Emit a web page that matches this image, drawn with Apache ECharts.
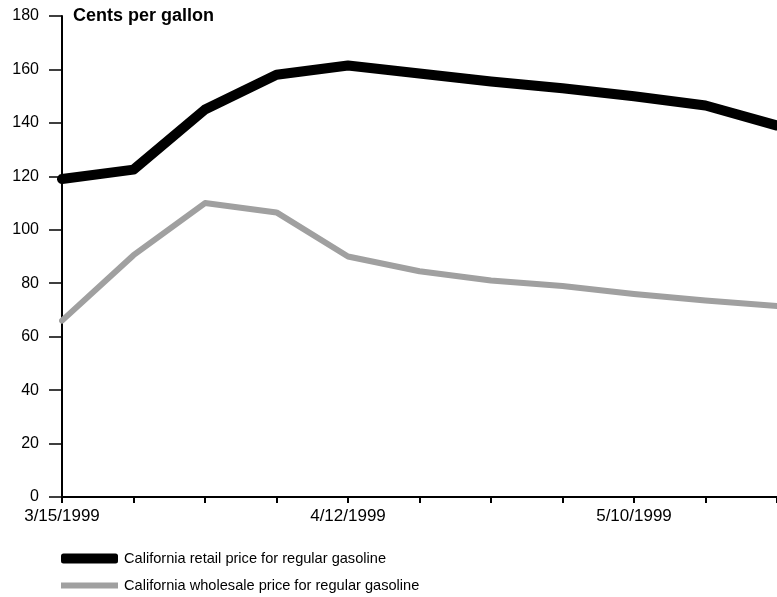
<!DOCTYPE html>
<html><head><meta charset="utf-8">
<script src="https://cdn.jsdelivr.net/npm/echarts@6/dist/echarts.min.js"></script>
<style>html,body{margin:0;padding:0;background:#fff}#c{width:777px;height:597px}</style>
</head><body><div id="c"></div>
<script>
var dates = ['3/15/1999','3/22/1999','3/29/1999','4/5/1999','4/12/1999','4/19/1999','4/26/1999','5/3/1999','5/10/1999','5/17/1999','5/24/1999'];
var retail = [119, 122.5, 145, 158, 161.5, 158.5, 155.5, 153, 150, 146.5, 139];
var wholesale = [66, 90.5, 110, 106.5, 90, 84.5, 81, 79, 76, 73.5, 71.5];
var yTicks = [0, 20, 40, 60, 80, 100, 120, 140, 160, 180];
var retailName = 'California retail price for regular gasoline';
var wholesaleName = 'California wholesale price for regular gasoline';
var FONT = '"Liberation Sans", Arial, Helvetica, sans-serif';

var chart = echarts.init(document.getElementById('c'), null, {renderer: 'canvas'});
chart.setOption({
  animation: false,
  backgroundColor: '#fff',
  title: {
    text: 'Cents per gallon', left: 68, top: 2,
    textStyle: {fontFamily: FONT, fontSize: 18, fontWeight: 'bold', color: '#000'}
  },
  legend: [{
    data: [retailName], orient: 'vertical', left: 56, top: 546,
    itemWidth: 57, itemHeight: 10, icon: 'roundRect',
    textStyle: {fontFamily: FONT, fontSize: 14.6, color: '#000', padding: [0,0,0,1]}
  }, {
    data: [wholesaleName], orient: 'vertical', left: 56, top: 573,
    itemWidth: 57, itemHeight: 6, icon: 'rect',
    textStyle: {fontFamily: FONT, fontSize: 14.6, color: '#000', padding: [0,0,0,1]}
  }],
  grid: {left: 62, right: -5, top: 16, bottom: 100, containLabel: false},
  xAxis: {
    type: 'category', data: dates, boundaryGap: false,
    axisLine: {lineStyle: {color: '#000', width: 2}},
    axisTick: {length: 6, lineStyle: {color: '#000', width: 2}, interval: 0},
    axisLabel: {
      interval: function (i) { return i % 4 === 0; },
      fontFamily: FONT, fontSize: 17, color: '#000', margin: 11
    },
    splitLine: {show: false}
  },
  yAxis: {
    type: 'value', min: yTicks[0], max: yTicks[yTicks.length - 1], interval: 20,
    axisLine: {show: true, lineStyle: {color: '#000', width: 2}},
    axisTick: {show: true, length: 13, lineStyle: {color: '#000', width: 1.5}},
    axisLabel: {fontFamily: FONT, fontSize: 16, color: '#000', margin: 23},
    splitLine: {show: false}
  },
  series: [{
    name: retailName, type: 'line', data: retail, symbol: 'none',
    lineStyle: {color: '#000', width: 10, cap: 'round', join: 'round'},
    itemStyle: {color: '#000'}, z: 3
  }, {
    name: wholesaleName, type: 'line', data: wholesale, symbol: 'none',
    lineStyle: {color: '#a0a0a0', width: 6, cap: 'round', join: 'round'},
    itemStyle: {color: '#a0a0a0'}, z: 2
  }]
});
</script></body></html>
